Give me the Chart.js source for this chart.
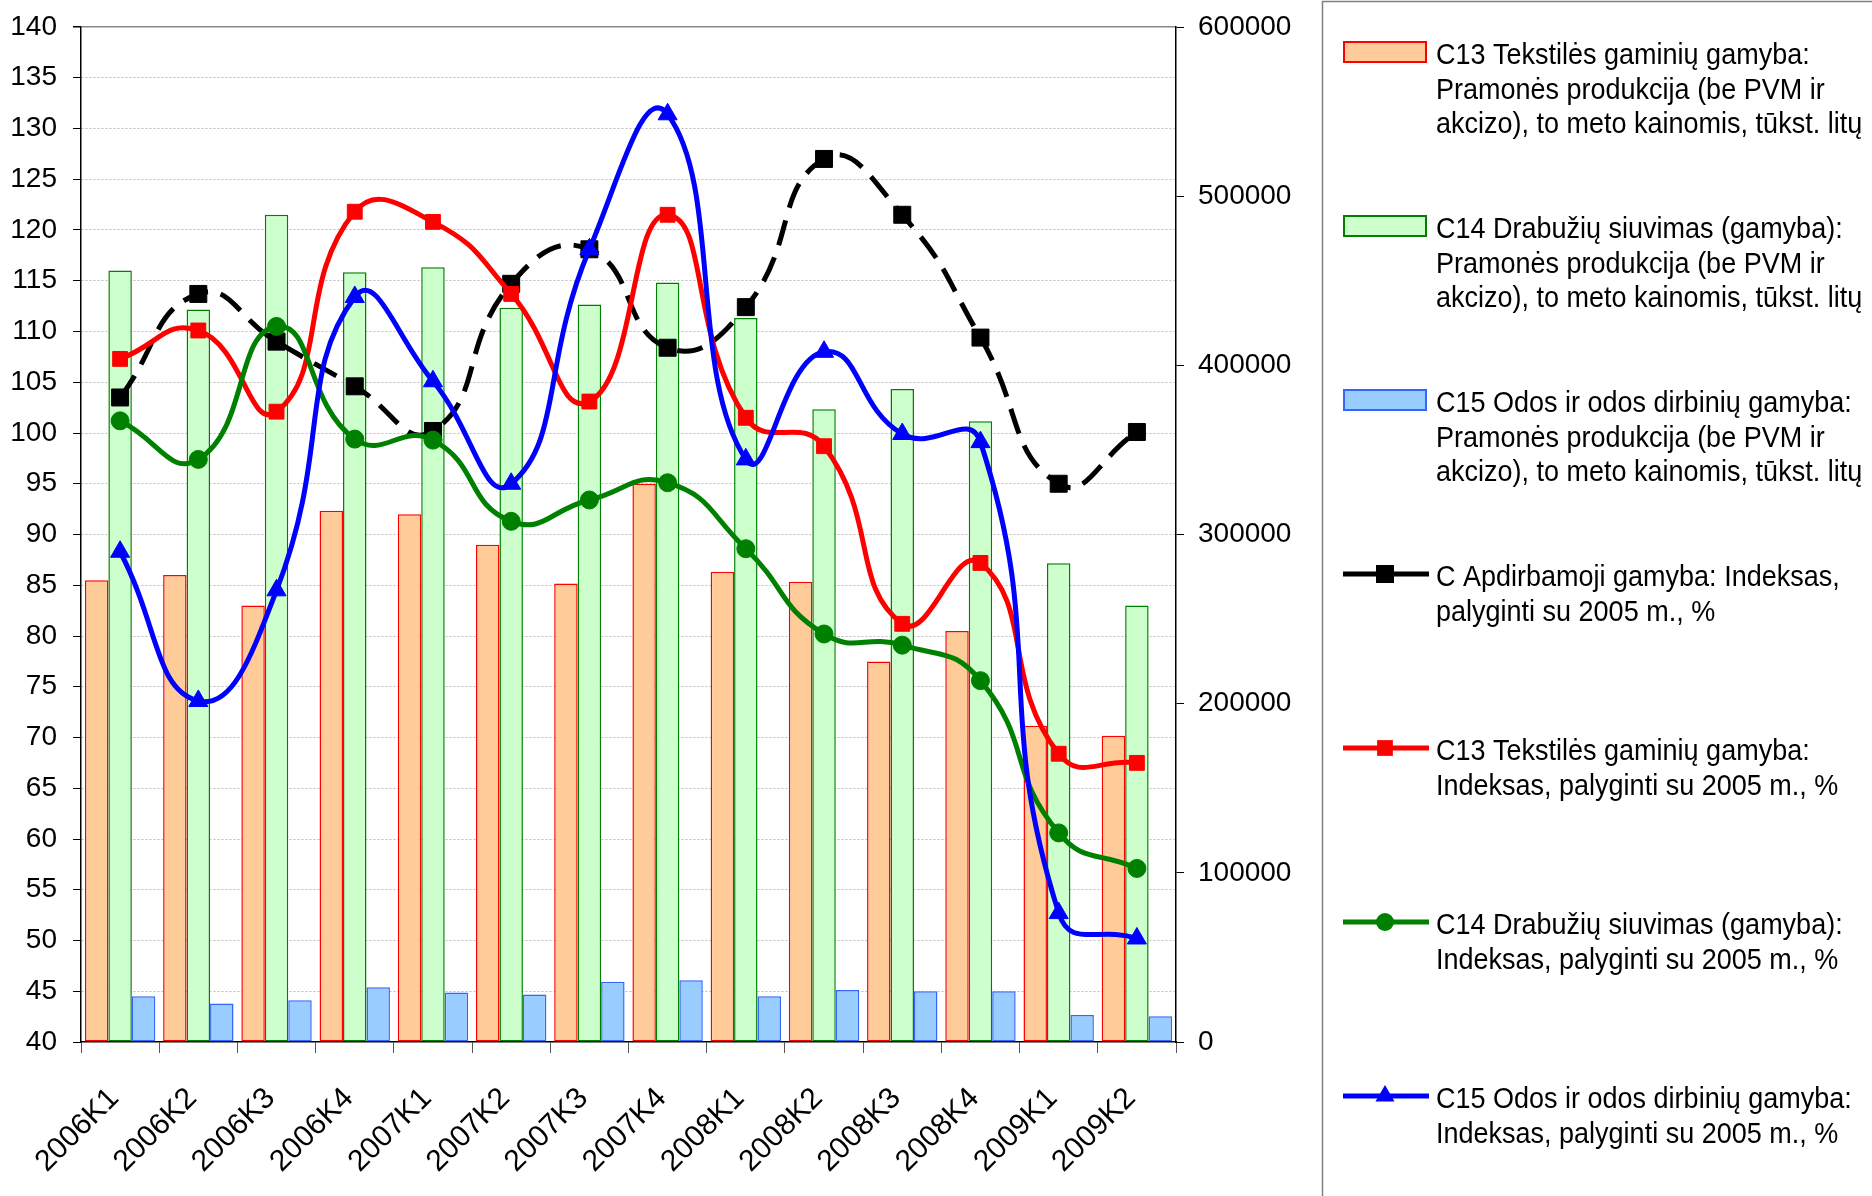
<!DOCTYPE html>
<html lang="lt">
<head>
<meta charset="UTF-8">
<title>Tekstilės, drabužių ir odos gamyba 2006–2009</title>
<script src="https://cdn.jsdelivr.net/npm/chart.js"></script>
<style>
  html, body { margin: 0; padding: 0; background: #fff; }
  #wrap { width: 1872px; height: 1196px; }
</style>
</head>
<body>
<div id="wrap"><canvas id="grafikas" width="1872" height="1196"></canvas></div>
<script>
// ketvirčiai
var ketvirciai = ['2006K1', '2006K2', '2006K3', '2006K4', '2007K1', '2007K2', '2007K3',
                  '2007K4', '2008K1', '2008K2', '2008K3', '2008K4', '2009K1', '2009K2'];

// pramonės produkcija, tūkst. litų (dešinė ašis)
var c13Produkcija = [273000, 276000, 258000, 314000, 312000, 294000, 271000,
                     330000, 278000, 272000, 225000, 243000, 187000, 181000];
var c14Produkcija = [456000, 433000, 489000, 455000, 458000, 434000, 436000,
                     449000, 428000, 374000, 386000, 367000, 283000, 258000];
var c15Produkcija = [27000, 22700, 24700, 32300, 29300, 28100, 35600,
                     36500, 27000, 30800, 30000, 30000, 16000, 15200];

// indeksai, palyginti su 2005 m., % (kairė ašis)
var cIndeksas   = [103.5, 113.7, 109.0, 104.6, 100.2, 114.7, 118.1,
                   108.4, 112.4, 127.0, 121.5, 109.4, 95.0, 100.1];
var c13Indeksas = [107.3, 110.1, 102.1, 121.8, 120.8, 113.7, 103.1,
                   121.5, 101.5, 98.7, 81.2, 87.2, 68.4, 67.5];
var c14Indeksas = [101.2, 97.4, 110.5, 99.4, 99.3, 91.3, 93.4,
                   95.1, 88.6, 80.2, 79.1, 75.6, 60.6, 57.1];
var c15Indeksas = [88.3, 73.6, 84.5, 113.4, 105.1, 95.0, 118.1,
                   131.4, 97.4, 108.0, 99.9, 99.1, 52.7, 50.2];

// ašių ribos
var kaireAsis = { min: 40, max: 140, step: 5 };
var desineAsis = { min: 0, max: 600000, step: 100000 };

// legendos tekstai
var legendosTekstai = [
    ['C13 Tekstilės gaminių gamyba:', 'Pramonės produkcija (be PVM ir', 'akcizo), to meto kainomis, tūkst. litų'],
    ['C14 Drabužių siuvimas (gamyba):', 'Pramonės produkcija (be PVM ir', 'akcizo), to meto kainomis, tūkst. litų'],
    ['C15 Odos ir odos dirbinių gamyba:', 'Pramonės produkcija (be PVM ir', 'akcizo), to meto kainomis, tūkst. litų'],
    ['C Apdirbamoji gamyba: Indeksas,', 'palyginti su 2005 m., %'],
    ['C13 Tekstilės gaminių gamyba:', 'Indeksas, palyginti su 2005 m., %'],
    ['C14 Drabužių siuvimas (gamyba):', 'Indeksas, palyginti su 2005 m., %'],
    ['C15 Odos ir odos dirbinių gamyba:', 'Indeksas, palyginti su 2005 m., %']
];

var sriftas = '"Liberation Sans", Arial, sans-serif';

function stulpelis(duomenys, fonas, kontur, i) {
    return {
        type: 'bar',
        label: legendosTekstai[i].join(' '),
        legendLines: legendosTekstai[i],
        data: duomenys,
        yAxisID: 'y2',
        backgroundColor: fonas,
        borderColor: kontur,
        borderWidth: 1.5,
        borderSkipped: false,
        categoryPercentage: 0.9,
        barPercentage: 1.0,
        order: 10
    };
}

function linija(duomenys, spalva, stilius, spindulys, eile, i) {
    return {
        type: 'line',
        label: legendosTekstai[i].join(' '),
        legendLines: legendosTekstai[i],
        data: duomenys,
        yAxisID: 'y',
        borderColor: spalva,
        backgroundColor: spalva,
        borderWidth: 5,
        tension: 0.5,
        fill: false,
        pointStyle: stilius,
        pointRadius: spindulys,
        pointBackgroundColor: spalva,
        pointBorderColor: spalva,
        pointBorderWidth: 1,
        order: eile
    };
}

var datasets = [
    stulpelis(c13Produkcija, '#ffcc99', '#ff0000', 0),
    stulpelis(c14Produkcija, '#ccffcc', '#008000', 1),
    stulpelis(c15Produkcija, '#99ccff', '#3366ff', 2),
    linija(cIndeksas, '#000000', 'rect', 12, 4, 3),
    linija(c13Indeksas, '#ff0000', 'rect', 10.5, 3, 4),
    linija(c14Indeksas, '#008000', 'circle', 9, 2, 5),
    linija(c15Indeksas, '#0000ff', 'triangle', 11, 1, 6)
];
datasets[3].borderDash = [26, 13];

// legenda dešinėje, rėmelyje
var legendaPlugin = {
    id: 'legenda',
    afterDraw: function (chart) {
        var ctx = chart.ctx;
        ctx.save();
        ctx.strokeStyle = '#808080';
        ctx.lineWidth = 1.5;
        ctx.strokeRect(1322.5, 1.5, 700, 1300);

        chart.data.datasets.forEach(function (ds, i) {
            var cy = 52 + 174 * i;
            if (ds.type === 'bar') {
                ctx.fillStyle = ds.backgroundColor;
                ctx.fillRect(1344, cy - 10, 82, 20);
                ctx.strokeStyle = ds.borderColor;
                ctx.lineWidth = 2;
                ctx.setLineDash([]);
                ctx.strokeRect(1344, cy - 10, 82, 20);
            } else {
                ctx.strokeStyle = ds.borderColor;
                ctx.fillStyle = ds.borderColor;
                ctx.lineWidth = 5;
                ctx.setLineDash([]);
                ctx.beginPath();
                ctx.moveTo(1343, cy);
                ctx.lineTo(1429, cy);
                ctx.stroke();
                var mx = 1385;
                ctx.beginPath();
                if (ds.pointStyle === 'rect') {
                    var s = ds.pointRadius * 0.75;
                    ctx.rect(mx - s, cy - s, 2 * s, 2 * s);
                } else if (ds.pointStyle === 'circle') {
                    ctx.arc(mx, cy, ds.pointRadius, 0, Math.PI * 2);
                } else {
                    var r = ds.pointRadius;
                    ctx.moveTo(mx, cy - r);
                    ctx.lineTo(mx + r * 0.866, cy + r * 0.5);
                    ctx.lineTo(mx - r * 0.866, cy + r * 0.5);
                    ctx.closePath();
                }
                ctx.fill();
            }
            ctx.fillStyle = '#000';
            ctx.font = '27px ' + sriftas;
            ctx.textAlign = 'left';
            ctx.textBaseline = 'alphabetic';
            ds.legendLines.forEach(function (eil, j) {
                ctx.save();
                ctx.translate(1436, cy + 12 + 34.5 * j);
                ctx.scale(1, 1.08);
                ctx.fillText(eil, 0, 0);
                ctx.restore();
            });
        });
        ctx.restore();
    }
};

function be_paraščių(s) {
    s.paddingTop = 0;
    s.paddingBottom = 0;
}

var ctx = document.getElementById('grafikas').getContext('2d');

var grafikas = new Chart(ctx, {
    data: {
        labels: ketvirciai,
        datasets: datasets
    },
    options: {
        responsive: false,
        animation: false,
        devicePixelRatio: 1,
        layout: { padding: { top: 27, left: 0, right: 0, bottom: 0 } },
        plugins: {
            legend: { display: false },
            tooltip: { enabled: false }
        },
        scales: {
            x: {
                type: 'category',
                offset: true,
                grid: {
                    offset: true,
                    drawOnChartArea: false,
                    tickLength: 11,
                    tickColor: '#555',
                    color: '#555'
                },
                border: { color: '#000', width: 1.5 },
                ticks: {
                    color: '#000',
                    font: { family: sriftas, size: 30 },
                    minRotation: 45,
                    maxRotation: 45,
                    autoSkip: false,
                    padding: 28,
                    labelOffset: -6
                },
                afterFit: function (s) { s.height = 154; s.paddingLeft = 0; s.paddingRight = 0; }
            },
            y: {
                position: 'left',
                min: kaireAsis.min,
                max: kaireAsis.max,
                ticks: {
                    stepSize: kaireAsis.step,
                    color: '#000',
                    font: { family: sriftas, size: 28 },
                    padding: 16
                },
                grid: {
                    color: function (c) {
                        if (c.tick.value === kaireAsis.min) return 'rgba(0,0,0,0)';
                        if (c.tick.value === kaireAsis.max) return '#888';
                        return '#bdbdbd';
                    },
                    lineWidth: function (c) { return c.tick.value === kaireAsis.max ? 1.5 : 1; },
                    tickColor: '#000',
                    tickLength: 8
                },
                border: {
                    color: '#000',
                    width: 1.5,
                    dash: function (c) { return c.tick && c.tick.value === kaireAsis.max ? [] : [2, 2]; }
                },
                afterFit: function (s) { s.width = 81; be_paraščių(s); }
            },
            y2: {
                position: 'right',
                min: desineAsis.min,
                max: desineAsis.max,
                ticks: {
                    stepSize: desineAsis.step,
                    color: '#000',
                    font: { family: sriftas, size: 28 },
                    padding: 14,
                    callback: function (v) { return String(v); }
                },
                grid: {
                    drawOnChartArea: false,
                    tickColor: '#000',
                    tickLength: 8
                },
                border: { color: '#000', width: 1.5 },
                afterFit: function (s) { s.width = 696; be_paraščių(s); }
            }
        }
    },
    plugins: [legendaPlugin]
});
</script>
</body>
</html>
